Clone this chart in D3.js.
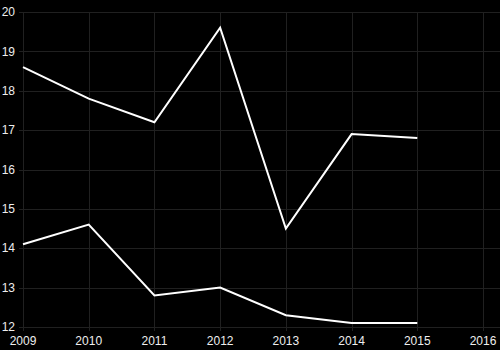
<!DOCTYPE html>
<html>
<head>
<meta charset="utf-8">
<script src="https://cdn.jsdelivr.net/npm/d3@7"></script>
<style>
  html, body { margin: 0; padding: 0; background: #000; }
  svg { display: block; }
</style>
</head>
<body>
<svg id="chart" width="500" height="350"></svg>
<script>
// Yearly values for the two series
const years = [2009, 2010, 2011, 2012, 2013, 2014, 2015];
const seriesUpper = [18.6, 17.8, 17.2, 19.6, 14.5, 16.9, 16.8];
const seriesLower = [14.1, 14.6, 12.8, 13.0, 12.3, 12.1, 12.1];
const xTicks = [2009, 2010, 2011, 2012, 2013, 2014, 2015, 2016];
const yTicks = [12, 13, 14, 15, 16, 17, 18, 19, 20];

const svg = d3.select("#chart");
const margin = { left: 23, right: 17, top: 12, bottom: 23 };
const W = 500, H = 350;

const x = d3.scaleLinear().domain([2009, 2016]).range([margin.left, W - margin.right]);
const y = d3.scaleLinear().domain([12, 20]).range([H - margin.bottom, margin.top]);

svg.append("rect").attr("width", W).attr("height", H).attr("fill", "#000");

// grid
const grid = svg.append("g").attr("stroke", "#202020").attr("stroke-width", 1);
grid.selectAll("line.v").data(xTicks).join("line")
  .attr("class", "v")
  .attr("x1", d => Math.round(x(d)) + 0.5).attr("x2", d => Math.round(x(d)) + 0.5)
  .attr("y1", margin.top).attr("y2", H - margin.bottom + 4);
grid.selectAll("line.h").data(yTicks).join("line")
  .attr("class", "h")
  .attr("y1", d => Math.round(y(d)) + 0.5).attr("y2", d => Math.round(y(d)) + 0.5)
  .attr("x1", margin.left - 4).attr("x2", W);

// axis labels
const font = "'Liberation Sans', Arial, sans-serif";
svg.append("g").selectAll("text").data(yTicks).join("text")
  .attr("x", margin.left - 8).attr("y", d => y(d))
  .attr("dy", "0.35em")
  .attr("text-anchor", "end")
  .attr("fill", "#eee").attr("font-size", 12).attr("font-family", font)
  .text(d => d);
svg.append("g").selectAll("text").data(xTicks).join("text")
  .attr("x", d => x(d)).attr("y", H - 5)
  .attr("text-anchor", "middle")
  .attr("fill", "#eee").attr("font-size", 12).attr("font-family", font)
  .text(d => d);

// lines
const line = d3.line().x((d, i) => x(years[i])).y(d => y(d));
[seriesUpper, seriesLower].forEach(s => {
  svg.append("path").datum(s)
    .attr("d", line)
    .attr("fill", "none")
    .attr("stroke", "#fff")
    .attr("stroke-width", 2)
    .attr("stroke-linejoin", "miter");
});
</script>
</body>
</html>
